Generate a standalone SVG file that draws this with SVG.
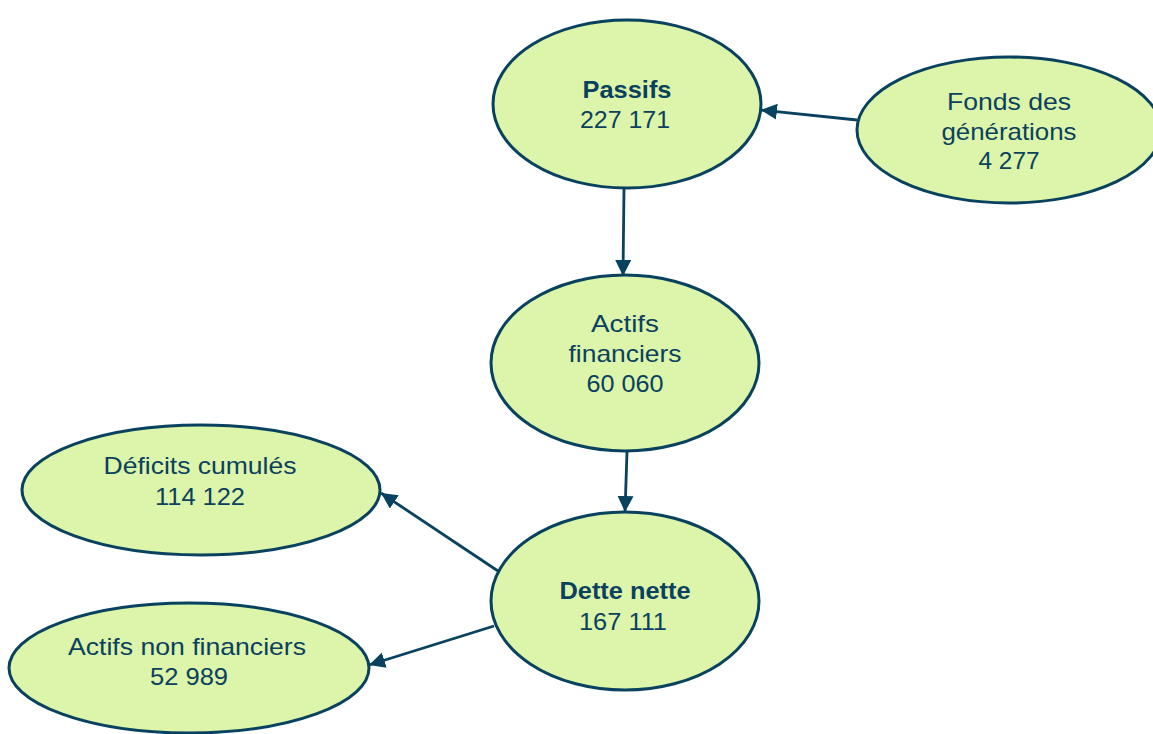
<svg xmlns="http://www.w3.org/2000/svg" width="1153" height="734" viewBox="0 0 1153 734">
<defs>
<style>
.node{fill:#dcf5aa;stroke:#08425e;stroke-width:3}
.t{font-family:"Liberation Sans",Arial,sans-serif;font-size:24px;fill:#0a415e;text-anchor:middle}
.b{font-weight:bold}
.edge{stroke:#08425e;stroke-width:2.8;fill:none;marker-end:url(#arr)}
</style>
<marker id="arr" markerUnits="userSpaceOnUse" markerWidth="17" markerHeight="17" refX="16" refY="8" orient="auto">
<path d="M0,0 L16,8 L0,16 z" fill="#08425e"/>
</marker>
</defs>
<rect width="1153" height="734" fill="#ffffff"/>
<g id="connectors">
<line class="edge" x1="624" y1="189" x2="623" y2="276"/>
<line class="edge" x1="857" y1="120" x2="761" y2="110"/>
<line class="edge" x1="627" y1="452" x2="625" y2="512"/>
<line class="edge" x1="498" y1="571" x2="381" y2="493"/>
<line class="edge" x1="494" y1="626" x2="369" y2="665"/>
</g>
<g id="passifs">
<ellipse class="node" cx="627" cy="104" rx="134" ry="84"/>
<text class="t b" x="627" y="98" textLength="89" lengthAdjust="spacingAndGlyphs">Passifs</text>
<text class="t" x="625" y="128" textLength="90" lengthAdjust="spacingAndGlyphs">227 171</text>
</g>
<g id="fonds">
<ellipse class="node" cx="1009" cy="130" rx="152" ry="73"/>
<text class="t" x="1009" y="110" textLength="124" lengthAdjust="spacingAndGlyphs">Fonds des</text>
<text class="t" x="1009" y="140" textLength="135" lengthAdjust="spacingAndGlyphs">générations</text>
<text class="t" x="1009" y="169" textLength="61" lengthAdjust="spacingAndGlyphs">4 277</text>
</g>
<g id="actifs-financiers">
<ellipse class="node" cx="625" cy="363" rx="134" ry="88"/>
<text class="t" x="625" y="332" textLength="68" lengthAdjust="spacingAndGlyphs">Actifs</text>
<text class="t" x="625" y="362" textLength="113" lengthAdjust="spacingAndGlyphs">financiers</text>
<text class="t" x="625" y="392" textLength="77" lengthAdjust="spacingAndGlyphs">60 060</text>
</g>
<g id="dette-nette">
<ellipse class="node" cx="625" cy="601" rx="134" ry="89"/>
<text class="t b" x="625" y="599" textLength="131" lengthAdjust="spacingAndGlyphs">Dette nette</text>
<text class="t" x="623" y="630" textLength="88" lengthAdjust="spacingAndGlyphs">167 111</text>
</g>
<g id="deficits">
<ellipse class="node" cx="201" cy="490" rx="179" ry="65"/>
<text class="t" x="200" y="474" textLength="193" lengthAdjust="spacingAndGlyphs">Déficits cumulés</text>
<text class="t" x="200" y="505" textLength="90" lengthAdjust="spacingAndGlyphs">114 122</text>
</g>
<g id="actifs-non-financiers">
<ellipse class="node" cx="189" cy="668" rx="180" ry="65"/>
<text class="t" x="187" y="655" textLength="238" lengthAdjust="spacingAndGlyphs">Actifs non financiers</text>
<text class="t" x="189" y="685" textLength="78" lengthAdjust="spacingAndGlyphs">52 989</text>
</g>
</svg>
